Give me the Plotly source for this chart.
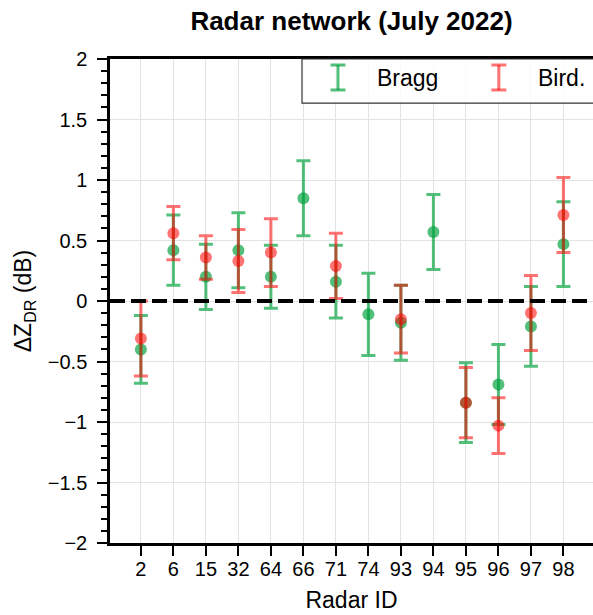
import plotly.graph_objects as go

# Radar identifiers (x categories)
radar_ids = ["2", "6", "15", "32", "64", "66", "71", "74", "93", "94", "95", "96", "97", "98"]

# Bragg scatter: ZDR offset and uncertainty per radar (dB)
bragg_ids = ["2", "6", "15", "32", "64", "66", "71", "74", "93", "94", "95", "96", "97", "98"]
bragg_val = [-0.40, 0.42, 0.20, 0.42, 0.20, 0.85, 0.16, -0.11, -0.18, 0.57, -0.84, -0.69, -0.21, 0.47]
bragg_err = [0.28, 0.29, 0.27, 0.31, 0.26, 0.31, 0.30, 0.34, 0.31, 0.31, 0.33, 0.33, 0.33, 0.35]

# Bird echoes: ZDR offset and uncertainty per radar (dB)
bird_ids = ["2", "6", "15", "32", "64", "71", "93", "95", "96", "97", "98"]
bird_val = [-0.31, 0.56, 0.36, 0.33, 0.40, 0.29, -0.15, -0.84, -1.03, -0.10, 0.71]
bird_err = [0.31, 0.22, 0.18, 0.26, 0.28, 0.27, 0.28, 0.29, 0.23, 0.31, 0.31]

GREEN = "rgba(0,160,60,0.68)"
RED = "rgba(255,0,0,0.55)"
FONT = "Liberation Sans, Arial, Helvetica, sans-serif"

fig = go.Figure()
for name, xs, ys, es, col in [
    ("Bragg", bragg_ids, bragg_val, bragg_err, GREEN),
    ("Bird.", bird_ids, bird_val, bird_err, RED),
]:
    fig.add_trace(go.Scatter(
        x=xs, y=ys, mode="markers", name=name,
        marker=dict(size=12, color=col, line=dict(width=0)),
        error_y=dict(type="data", array=es, visible=True, color=col,
                     thickness=3, width=7),
        showlegend=False,
    ))

# zero reference line
fig.add_shape(type="line", xref="paper", yref="y", x0=0, x1=1, y0=0, y1=0,
              line=dict(color="black", width=4, dash="15px,6px"), layer="above")

# legend box with error-bar glyphs
fig.add_shape(type="rect", xref="paper", yref="paper", x0=0.3975, x1=1.03,
              y0=0.909, y1=1.0, line=dict(color="#333333", width=1.2),
              fillcolor="rgba(255,255,255,0.8)", layer="above")
for gx, col, label, tx in [(0.472, GREEN, "Bragg", 0.5487), (0.805, RED, "Bird.", 0.882)]:
    y_lo, y_hi, cap = 0.936, 0.9876, 0.0155
    fig.add_shape(type="line", xref="paper", yref="paper", x0=gx, x1=gx,
                  y0=y_lo, y1=y_hi, line=dict(color=col, width=3), layer="above")
    for yy in (y_lo, y_hi):
        fig.add_shape(type="line", xref="paper", yref="paper", x0=gx - cap, x1=gx + cap,
                      y0=yy, y1=yy, line=dict(color=col, width=3), layer="above")
    fig.add_annotation(xref="paper", yref="paper", x=tx, y=0.961, text=label,
                       showarrow=False, xanchor="left", yanchor="middle",
                       font=dict(size=23, color="black", family=FONT))

fig.update_layout(
    width=593, height=615,
    margin=dict(l=110, r=0, t=59, b=72),
    plot_bgcolor="white", paper_bgcolor="white",
    font=dict(family=FONT, color="black", size=20),
    title=dict(text="<b>Radar network (July 2022)</b>", x=0.5, xref="paper",
               y=1 - 21 / 615, yanchor="middle", font=dict(size=26)),
    xaxis=dict(
        type="category", categoryorder="array", categoryarray=radar_ids,
        range=[-0.95, 13.91],
        showgrid=True, gridcolor="#e3e3e3", gridwidth=1.3,
        showline=True, linecolor="black", linewidth=2.5, mirror=True,
        ticks="outside", ticklen=10, tickwidth=2, tickcolor="black",
        tickfont=dict(size=20), ticklabelstandoff=-4,
        title=dict(text="Radar ID", font=dict(size=23), standoff=14),
        zeroline=False,
    ),
    yaxis=dict(
        range=[-2, 2], dtick=0.5, tick0=0,
        showgrid=True, gridcolor="#e3e3e3", gridwidth=1.3,
        showline=True, linecolor="black", linewidth=2.5, mirror=False,
        ticks="outside", ticklen=10, tickwidth=2, tickcolor="black",
        tickfont=dict(size=20), ticklabelstandoff=6,
        minor=dict(dtick=0.1, ticks="outside", ticklen=6, tickwidth=2,
                   tickcolor="black", showgrid=False),
        title=dict(text="ΔZ<sub>DR</sub> (dB)", font=dict(size=23), standoff=10),
        zeroline=False,
    ),
)

fig.write_html("out.html")
